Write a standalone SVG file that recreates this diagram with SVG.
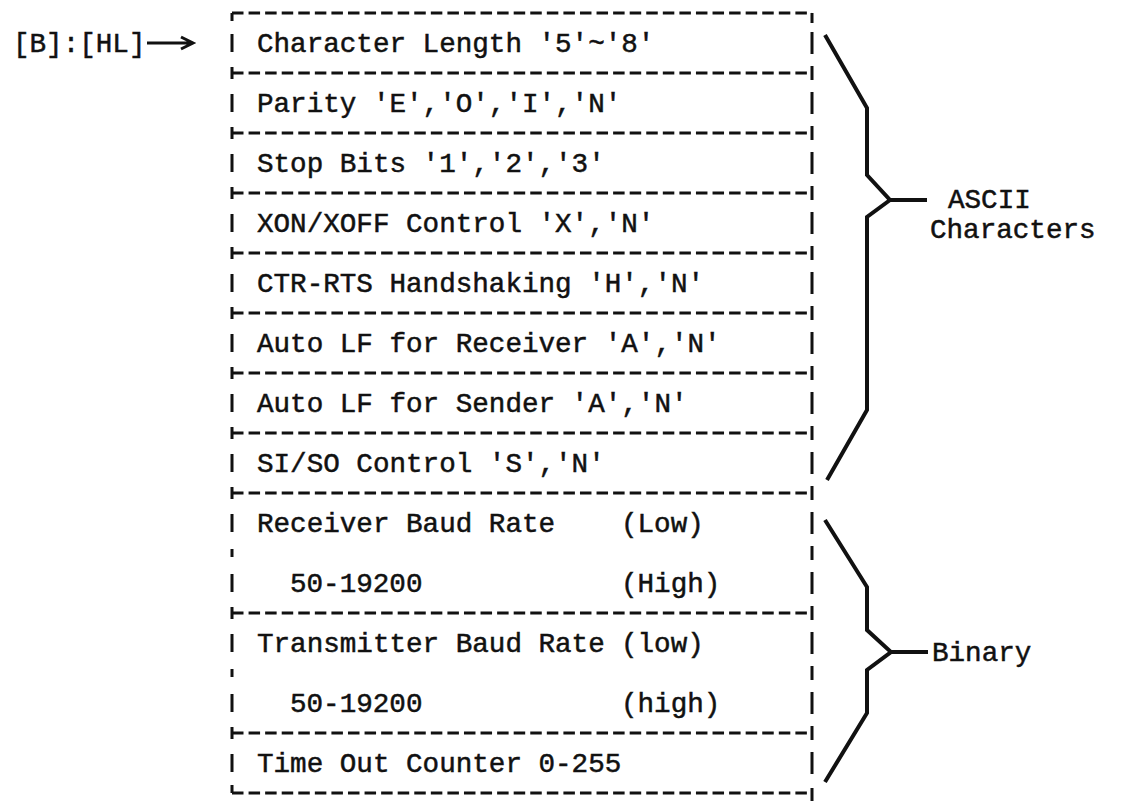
<svg xmlns="http://www.w3.org/2000/svg" width="1124" height="803" viewBox="0 0 1124 803">
<defs>
<style>
text{font-family:"Liberation Mono","DejaVu Sans Mono",monospace;font-size:27.6px;fill:#111;stroke:#111;stroke-width:0.5}
.div{stroke:#111;stroke-width:3;stroke-dasharray:11.5 5.07;fill:none}
.edge{stroke:#111;stroke-width:3;fill:none}
.brace{stroke:#111;stroke-width:4;fill:none;stroke-linejoin:miter}
</style>
</defs>
<rect width="1124" height="803" fill="#fff"/>

<g id="pointer-label"><text x="13" y="52">[B]:[HL]</text></g>

<g id="frame">
<path class="div" d="M232 13H812M232 73H812M232 133H812M232 193H812M232 253H812M232 313H812M232 373H812M232 433H812M232 493H812M232 613H812M232 733H812M232 793H812"/>
<path class="edge" d="M232 13V21M232 34V52M232 67V79M232 94V112M232 127V139M232 154V172M232 187V199M232 214V232M232 247V259M232 274V292M232 307V319M232 334V352M232 367V379M232 394V412M232 427V439M232 454V472M232 487V499M232 514V532M232 549V557M232 574V592M232 607V619M232 634V652M232 669V677M232 694V712M232 727V739M232 754V772M232 785V793"/>
<path class="edge" d="M812 13V23M812 32V54M812 66V80M812 92V114M812 126V140M812 152V174M812 186V200M812 212V234M812 246V260M812 272V294M812 306V320M812 332V354M812 366V380M812 392V414M812 426V440M812 452V474M812 486V500M812 512V534M812 546V560M812 572V594M812 606V620M812 632V654M812 666V680M812 692V714M812 726V740M812 752V774M812 788V801"/>
</g>

<g id="row-char-length"><text x="257" y="52">Character Length '5'~'8'</text></g>
<g id="row-parity"><text x="257" y="112">Parity 'E','O','I','N'</text></g>
<g id="row-stop-bits"><text x="257" y="172">Stop Bits '1','2','3'</text></g>
<g id="row-xon-xoff"><text x="257" y="232">XON/XOFF Control 'X','N'</text></g>
<g id="row-ctr-rts"><text x="257" y="292">CTR-RTS Handshaking 'H','N'</text></g>
<g id="row-auto-lf-receiver"><text x="257" y="352">Auto LF for Receiver 'A','N'</text></g>
<g id="row-auto-lf-sender"><text x="257" y="412">Auto LF for Sender 'A','N'</text></g>
<g id="row-si-so"><text x="257" y="472">SI/SO Control 'S','N'</text></g>
<g id="row-receiver-baud">
<text x="257" y="532">Receiver Baud Rate</text><text x="621" y="532">(Low)</text>
<text x="290" y="592">50-19200</text><text x="621" y="592">(High)</text>
</g>
<g id="row-transmitter-baud">
<text x="257" y="652">Transmitter Baud Rate</text><text x="621" y="652">(low)</text>
<text x="290" y="712">50-19200</text><text x="621" y="712">(high)</text>
</g>
<g id="row-time-out"><text x="257" y="772">Time Out Counter 0-255</text></g>

<g id="label-ascii"><text x="948" y="208">ASCII</text><text x="930" y="238">Characters</text></g>
<g id="label-binary"><text x="932" y="661">Binary</text></g>

<g id="connectors">
<path class="edge" stroke-width="2.5" d="M147 43H191M181 37L193 43L181 49"/>
<path class="brace" d="M825 35L867 108V175L890 200L867 217V410L827 480M890 200H927"/>
<path class="brace" d="M825 520L867 587V630L891 652L867 670V713L825 782M891 652H928"/>
</g>
</svg>
